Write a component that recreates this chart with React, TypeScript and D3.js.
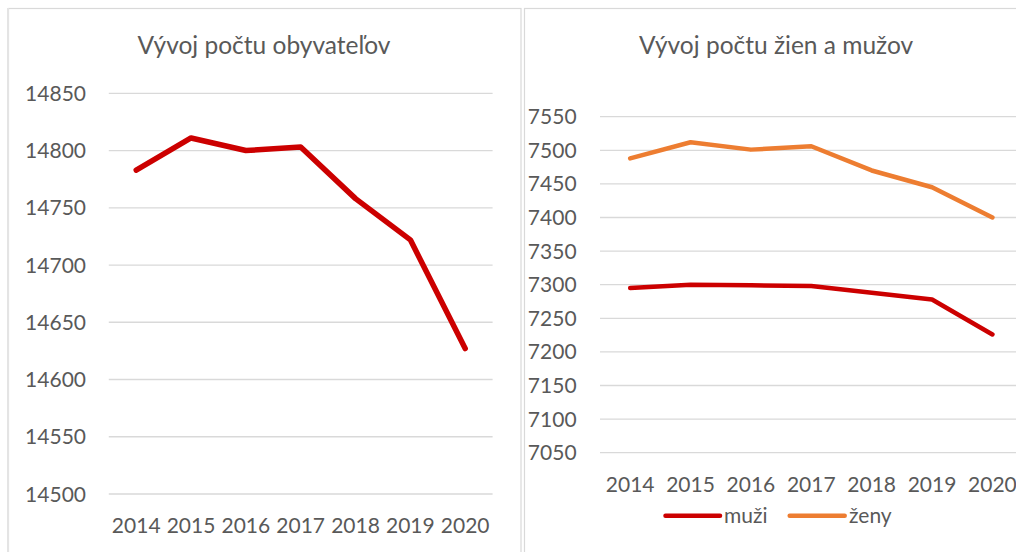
import React from "react";
import * as d3 from "d3";

const years = ["2014", "2015", "2016", "2017", "2018", "2019", "2020"];
const total = [14783, 14811, 14800, 14803, 14758, 14722, 14627];
const muzi = [7295, 7300, 7299, 7298, 7288, 7278, 7226];
const zeny = [7488, 7512, 7501, 7506, 7470, 7445, 7400];
const leftTicks = [14500, 14550, 14600, 14650, 14700, 14750, 14800, 14850];
const rightTicks = [7050, 7100, 7150, 7200, 7250, 7300, 7350, 7400, 7450, 7500, 7550];

const W = 1016;
const H = 552;
const FONT = "Lato, 'Open Sans', sans-serif";
const TXT = "#595959";
const GRID = "#d9d9d9";
const RED = "#cc0000";
const ORANGE = "#ed7d31";

export default function App() {
  const xL = d3.scaleBand<string>().domain(years).range([108.8, 492.6]);
  const yL = d3.scaleLinear().domain([14500, 14850]).range([494, 93.3]);
  const xR = d3.scaleBand<string>().domain(years).range([600, 1022.6]);
  const yR = d3.scaleLinear().domain([7050, 7550]).range([452.7, 116.7]);

  const lineL = d3
    .line<number>()
    .x((_, i) => (xL(years[i]) as number) + xL.bandwidth() / 2)
    .y((d) => yL(d));
  const lineR = d3
    .line<number>()
    .x((_, i) => (xR(years[i]) as number) + xR.bandwidth() / 2)
    .y((d) => yR(d));

  return (
    <svg
      width={W}
      height={H}
      style={{ position: "absolute", left: 0, top: 0, background: "#fff" }}
      fontFamily={FONT}
    >
      <rect x={0} y={0} width={W} height={H} fill="#fff" />
      <rect x={8.5} y={8.5} width={512.5} height={H + 20} fill="none" stroke={GRID} strokeWidth={1.2} />
      <line x1={8} x2={8} y1={8} y2={H} stroke="#e4e4e4" strokeWidth={2} />
      <rect x={524.5} y={8.5} width={W} height={H + 20} fill="none" stroke={GRID} strokeWidth={1.2} />

      {/* left chart */}
      <text x={264} y={54} textAnchor="middle" fontSize={24.5} fill={TXT}>
        Vývoj počtu obyvateľov
      </text>
      {leftTicks.map((t) => (
        <g key={t}>
          <line x1={108.8} x2={492.6} y1={yL(t)} y2={yL(t)} stroke={GRID} strokeWidth={1.3} />
          <text x={86} y={yL(t)} dy="0.36em" textAnchor="end" fontSize={21} fill={TXT}>
            {t}
          </text>
        </g>
      ))}
      {years.map((y) => (
        <text
          key={y}
          x={(xL(y) as number) + xL.bandwidth() / 2}
          y={532.5}
          textAnchor="middle"
          fontSize={21}
          fill={TXT}
        >
          {y}
        </text>
      ))}
      <path d={lineL(total) || ""} fill="none" stroke={RED} strokeWidth={5.5} strokeLinecap="round" strokeLinejoin="round" />

      {/* right chart */}
      <text x={776} y={54} textAnchor="middle" fontSize={24.5} fill={TXT}>
        Vývoj počtu žien a mužov
      </text>
      {rightTicks.map((t) => (
        <g key={t}>
          <line x1={600} x2={W} y1={yR(t)} y2={yR(t)} stroke={GRID} strokeWidth={1.3} />
          <text x={576.6} y={yR(t)} dy="0.36em" textAnchor="end" fontSize={21} fill={TXT}>
            {t}
          </text>
        </g>
      ))}
      {years.map((y) => (
        <text
          key={y}
          x={(xR(y) as number) + xR.bandwidth() / 2}
          y={491.5}
          textAnchor="middle"
          fontSize={21}
          fill={TXT}
        >
          {y}
        </text>
      ))}
      <path d={lineR(zeny) || ""} fill="none" stroke={ORANGE} strokeWidth={4.5} strokeLinecap="round" strokeLinejoin="round" />
      <path d={lineR(muzi) || ""} fill="none" stroke={RED} strokeWidth={4.5} strokeLinecap="round" strokeLinejoin="round" />

      {/* legend */}
      <line x1={665.5} x2={720} y1={515.7} y2={515.7} stroke={RED} strokeWidth={4.5} strokeLinecap="round" />
      <text x={724} y={523} fontSize={21} fill={TXT}>
        muži
      </text>
      <line x1={789.7} x2={844.7} y1={515.7} y2={515.7} stroke={ORANGE} strokeWidth={4.5} strokeLinecap="round" />
      <text x={849} y={523} fontSize={21} fill={TXT}>
        ženy
      </text>
    </svg>
  );
}
